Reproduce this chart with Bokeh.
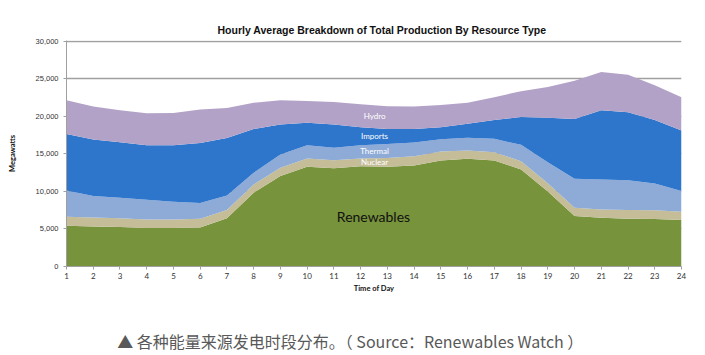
from bokeh.plotting import figure
from bokeh.layouts import column
from bokeh.models import ColumnDataSource, NumeralTickFormatter, FixedTicker, Label, Range1d
from bokeh.embed import file_html
from bokeh.resources import INLINE

hours = list(range(1, 25))
renewables = [5430, 5340, 5250, 5120, 5120, 5210, 6410, 9820, 12040, 13300, 13100, 13350,
              13300, 13460, 14120, 14350, 14120, 12920, 10000, 6720, 6500, 6360, 6320, 6180]
nuclear = [1200, 1200, 1160, 1150, 1150, 1150, 1100, 1110, 1100, 1100, 1060, 1050,
           1150, 1240, 1180, 1100, 1080, 1110, 1100, 1100, 1100, 1150, 1160, 1110]
thermal = [3500, 2840, 2750, 2620, 2350, 2090, 1960, 1550, 1780, 1750, 1640, 1750,
           1850, 1800, 1650, 1700, 1800, 2170, 2800, 3860, 4000, 3990, 3580, 2750]
imports = [7520, 7520, 7390, 7260, 7530, 8000, 7630, 5820, 3980, 3000, 3100, 2400,
           2000, 1800, 1600, 1850, 2500, 3700, 5900, 7970, 9200, 9050, 8440, 8060]
hydro = [4500, 4400, 4250, 4250, 4300, 4450, 4000, 3500, 3250, 2900, 3000, 3050,
         3050, 3000, 2950, 2800, 3050, 3450, 4100, 5100, 5100, 5000, 4650, 4450]

series = ["Renewables", "Nuclear", "Thermal", "Imports", "Hydro"]
colors = ["#77933C", "#C4BD97", "#8EAAD6", "#2E75CC", "#B3A2C7"]
y_ticks = [0, 5000, 10000, 15000, 20000, 25000, 30000]
title = "Hourly Average Breakdown of Total Production By Resource Type"
caption = "▲ 各种能量来源发电时段分布。（ Source：Renewables Watch ）"

src = ColumnDataSource(dict(hour=hours, Renewables=renewables, Nuclear=nuclear,
                            Thermal=thermal, Imports=imports, Hydro=hydro))

p = figure(width=700, height=300, output_backend="svg", toolbar_location=None,
           x_range=Range1d(1, 24), y_range=Range1d(0, 30100),
           min_border_left=66, min_border_right=19, min_border_top=40, min_border_bottom=34,
           title=title)
p.outline_line_color = None

p.varea_stack(stackers=series, x="hour", color=colors, source=src)

# title
p.title.align = "left"
p.title.offset = 151
p.title.text_font = "Liberation Sans"
p.title.text_font_size = "10.5px"
p.title.text_font_style = "bold"
p.title.text_color = "#111111"

# grids
p.xgrid.grid_line_color = None
p.ygrid.grid_line_color = "#A0A0A0"
p.ygrid.grid_line_width = 1.3
p.ygrid.ticker = FixedTicker(ticks=y_ticks)

# y axis
p.yaxis.ticker = FixedTicker(ticks=y_ticks)
p.yaxis.formatter = NumeralTickFormatter(format="0,0")
p.yaxis.major_label_text_font = "Liberation Sans"
p.yaxis.major_label_text_font_size = "7.5px"
p.yaxis.major_label_text_color = "#333333"
p.yaxis.axis_line_color = "#A0A0A0"
p.yaxis.major_tick_line_color = "#A0A0A0"
p.yaxis.major_tick_in = 0
p.yaxis.major_tick_out = 3
p.yaxis.minor_tick_line_color = None
p.yaxis.axis_label = "Megawatts"
p.yaxis.axis_label_text_font = "Lato"
p.yaxis.axis_label_text_font_size = "7.5px"
p.yaxis.axis_label_text_font_style = "bold"
p.yaxis.axis_label_text_color = "#111111"
p.yaxis.axis_label_standoff = 16

# x axis
p.xaxis.ticker = FixedTicker(ticks=hours)
p.xaxis.major_label_text_font = "Lato"
p.xaxis.major_label_text_font_size = "8px"
p.xaxis.major_label_text_color = "#333333"
p.xaxis.major_label_standoff = 3
p.xaxis.axis_line_color = "#A0A0A0"
p.xaxis.major_tick_line_color = "#A0A0A0"
p.xaxis.major_tick_in = 0
p.xaxis.major_tick_out = 3
p.xaxis.minor_tick_line_color = None
p.xaxis.axis_label = "Time of Day"
p.xaxis.axis_label_text_font = "Lato"
p.xaxis.axis_label_text_font_size = "7.5px"
p.xaxis.axis_label_text_font_style = "bold"
p.xaxis.axis_label_text_color = "#111111"
p.xaxis.axis_label_standoff = 2

# series labels
for txt, yv in [("Hydro", 20000), ("Imports", 17350), ("Thermal", 15350), ("Nuclear", 13900)]:
    p.add_layout(Label(x=12.52, y=yv, text=txt, text_color="white", text_font="Lato",
                       text_font_size="8px", text_align="center", text_baseline="middle"))
p.add_layout(Label(x=12.48, y=6720, text="Renewables", text_color="#111111", text_font="Lato",
                   text_font_size="14px", text_align="center", text_baseline="middle"))

# caption panel
c = figure(width=700, height=55, output_backend="svg", toolbar_location=None,
           x_range=Range1d(0, 700), y_range=Range1d(0, 55),
           x_axis_type=None, y_axis_type=None, min_border=0)
c.outline_line_color = None
c.grid.visible = False
c.add_layout(Label(x=323, y=15, text=caption, text_color="#595959",
                   text_font="Noto Sans CJK SC", text_font_size="16px",
                   text_align="center", text_baseline="middle"))

layout = column(p, c, spacing=0)
open("out.html", "w").write(file_html(layout, INLINE))
